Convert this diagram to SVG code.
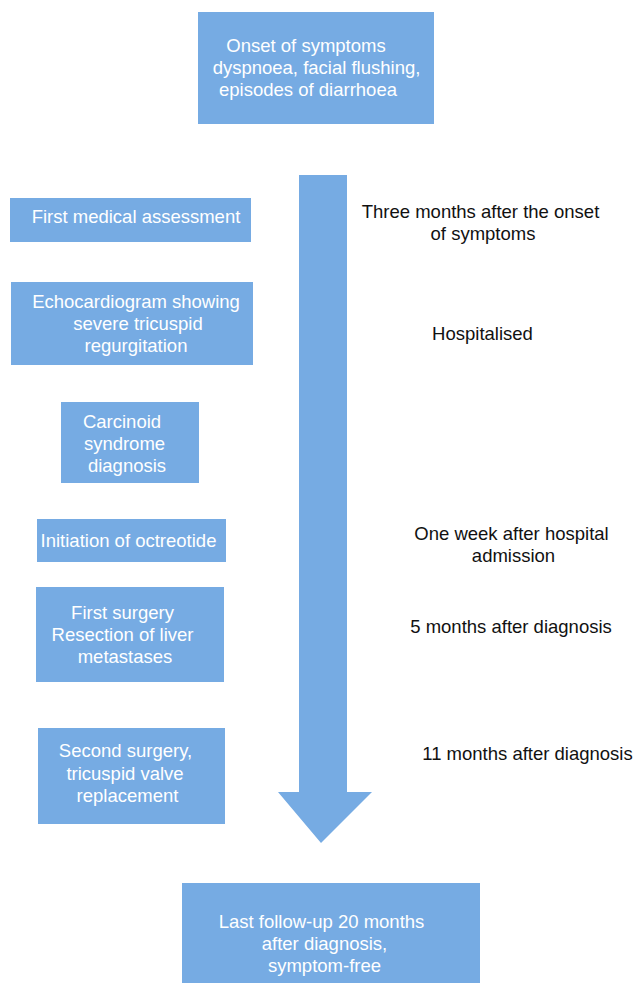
<svg xmlns="http://www.w3.org/2000/svg" width="638" height="983" viewBox="0 0 638 983">
<style>
.box{fill:#76ABE3}
.t{font-family:"Liberation Sans",Arial,Helvetica,sans-serif;font-size:18.5px;text-anchor:middle}
.w{fill:#ffffff}
.k{fill:#111111}
</style>
<rect width="638" height="983" fill="#ffffff"/>
<g id="connectors">
<polygon class="box" points="299,175 347,175 347,792 372,792 321,843 278,792 299,792"/>
</g>
<g id="onset">
<rect class="box" x="198" y="12" width="236" height="112"/>
<text class="t w" x="306" y="52">Onset of symptoms</text>
<text class="t w" x="316.5" y="74">dyspnoea, facial flushing,</text>
<text class="t w" x="308" y="96">episodes of diarrhoea</text>
</g>
<g id="assessment">
<rect class="box" x="10" y="198" width="241" height="44"/>
<text class="t w" x="136" y="223">First medical assessment</text>
</g>
<g id="echo">
<rect class="box" x="11" y="282" width="242" height="83"/>
<text class="t w" x="136" y="308">Echocardiogram showing</text>
<text class="t w" x="138" y="330">severe tricuspid</text>
<text class="t w" x="136" y="352">regurgitation</text>
</g>
<g id="carcinoid">
<rect class="box" x="61" y="402" width="138" height="81"/>
<text class="t w" x="122" y="428">Carcinoid</text>
<text class="t w" x="124.5" y="450">syndrome</text>
<text class="t w" x="127" y="472">diagnosis</text>
</g>
<g id="octreotide">
<rect class="box" x="37" y="519" width="189" height="43"/>
<text class="t w" x="128.5" y="547">Initiation of octreotide</text>
</g>
<g id="surgery1">
<rect class="box" x="36" y="587" width="188" height="95"/>
<text class="t w" x="122.5" y="619">First surgery</text>
<text class="t w" x="122.5" y="641">Resection of liver</text>
<text class="t w" x="125" y="663">metastases</text>
</g>
<g id="surgery2">
<rect class="box" x="38" y="728" width="187" height="96"/>
<text class="t w" x="125.5" y="757">Second surgery,</text>
<text class="t w" x="125" y="780">tricuspid valve</text>
<text class="t w" x="127.5" y="802">replacement</text>
</g>
<g id="followup">
<rect class="box" x="182" y="883" width="298" height="100"/>
<text class="t w" x="321.5" y="928">Last follow-up 20 months</text>
<text class="t w" x="324.5" y="950">after diagnosis,</text>
<text class="t w" x="324.5" y="972">symptom-free</text>
</g>
<g id="time-labels">
<text class="t k" x="480.5" y="218">Three months after the onset</text>
<text class="t k" x="483" y="240">of symptoms</text>
<text class="t k" x="482.5" y="340">Hospitalised</text>
<text class="t k" x="511.5" y="540">One week after hospital</text>
<text class="t k" x="513.5" y="562">admission</text>
<text class="t k" x="511" y="633">5 months after diagnosis</text>
<text class="t k" x="527.5" y="760">11 months after diagnosis</text>
</g>
</svg>
